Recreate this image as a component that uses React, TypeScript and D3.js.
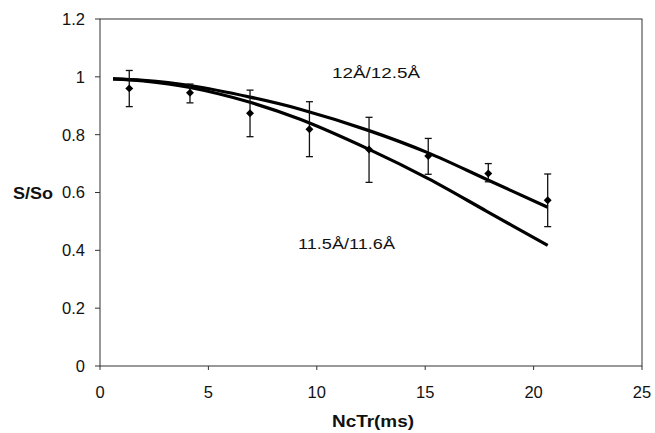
import React from "react";
import * as d3 from "d3";

const xTicks = [0, 5, 10, 15, 20, 25];
const yTicks = [0, 0.2, 0.4, 0.6, 0.8, 1, 1.2];
const yTickLabels = ["0", "0.2", "0.4", "0.6", "0.8", "1", "1.2"];

const pointX = [1.35, 4.15, 6.92, 9.66, 12.41, 15.14, 17.91, 20.65];
const pointY = [0.96, 0.945, 0.874, 0.819, 0.749, 0.726, 0.666, 0.573];
const errHigh = [1.022, 0.975, 0.954, 0.914, 0.86, 0.787, 0.7, 0.664];
const errLow = [0.897, 0.91, 0.793, 0.724, 0.635, 0.663, 0.637, 0.482];

const curveX = [0.6, 2, 4.15, 6.92, 9.23, 12.41, 15.14, 17.84, 20.65];
const upperY = [0.993, 0.988, 0.970, 0.930, 0.888, 0.814, 0.737, 0.645, 0.549];
const lowerY = [0.993, 0.986, 0.963, 0.912, 0.853, 0.749, 0.648, 0.535, 0.417];

const upperLabel = "12Å/12.5Å";
const lowerLabel = "11.5Å/11.6Å";
const xTitle = "NcTr(ms)";
const yTitle = "S/So";

const W = 655;
const H = 433;
const left = 100;
const right = 642;
const top = 19;
const bottom = 366;

export default function App() {
  const x = d3.scaleLinear().domain([0, 25]).range([left, right]);
  const y = d3.scaleLinear().domain([0, 1.2]).range([bottom, top]);
  const line = d3
    .line<number>()
    .x((_, i) => x(curveX[i]))
    .curve(d3.curveCatmullRom.alpha(0.5));
  const upperPath = line.y((d) => y(d))(upperY) as string;
  const lowerPath = line.y((d) => y(d))(lowerY) as string;
  const diamond = d3.symbol(d3.symbolDiamond2, 40)() as string;
  const font = "Arial, 'Liberation Sans', Helvetica, sans-serif";

  return (
    <svg
      width={W}
      height={H}
      style={{ position: "absolute", left: 0, top: 0, background: "#fff" }}
      fontFamily={font}
    >
      <rect x={0} y={0} width={W} height={H} fill="#fff" />
      <rect
        x={left}
        y={top}
        width={right - left}
        height={bottom - top}
        fill="none"
        stroke="#333"
        strokeWidth={1}
      />
      {yTicks.map((t, i) => (
        <g key={"y" + i}>
          <line x1={left - 5} x2={left} y1={y(t)} y2={y(t)} stroke="#333" />
          <text
            x={85}
            y={y(t)}
            dy="0.36em"
            textAnchor="end"
            fontSize={16.5}
            fill="#111"
          >
            {yTickLabels[i]}
          </text>
        </g>
      ))}
      {xTicks.map((t, i) => (
        <g key={"x" + i}>
          <line x1={x(t)} x2={x(t)} y1={bottom} y2={bottom + 4} stroke="#333" />
          <text
            x={x(t)}
            y={398}
            textAnchor="middle"
            fontSize={16.5}
            fill="#111"
          >
            {String(t)}
          </text>
        </g>
      ))}
      <path d={upperPath} fill="none" stroke="#000" strokeWidth={3.2} />
      <path d={lowerPath} fill="none" stroke="#000" strokeWidth={3.2} />
      {pointX.map((px, i) => (
        <g key={"p" + i}>
          <line
            x1={x(px)}
            x2={x(px)}
            y1={y(errHigh[i])}
            y2={y(errLow[i])}
            stroke="#111"
            strokeWidth={1.3}
          />
          <line
            x1={x(px) - 3.5}
            x2={x(px) + 3.5}
            y1={y(errHigh[i])}
            y2={y(errHigh[i])}
            stroke="#111"
            strokeWidth={1.3}
          />
          <line
            x1={x(px) - 3.5}
            x2={x(px) + 3.5}
            y1={y(errLow[i])}
            y2={y(errLow[i])}
            stroke="#111"
            strokeWidth={1.3}
          />
          <path
            d={diamond}
            transform={`translate(${x(px)},${y(pointY[i])})`}
            fill="#000"
          />
        </g>
      ))}
      <text
        x={332}
        y={78}
        fontSize={15.5}
        textLength={88}
        lengthAdjust="spacingAndGlyphs"
        fill="#111"
      >
        {upperLabel}
      </text>
      <text
        x={298}
        y={249}
        fontSize={15.5}
        textLength={97}
        lengthAdjust="spacingAndGlyphs"
        fill="#111"
      >
        {lowerLabel}
      </text>
      <text
        x={13}
        y={199}
        fontSize={16}
        fontWeight="bold"
        textLength={40}
        lengthAdjust="spacingAndGlyphs"
        fill="#111"
      >
        {yTitle}
      </text>
      <text
        x={332}
        y={427}
        fontSize={17}
        fontWeight="bold"
        textLength={82}
        lengthAdjust="spacingAndGlyphs"
        fill="#111"
      >
        {xTitle}
      </text>
    </svg>
  );
}
